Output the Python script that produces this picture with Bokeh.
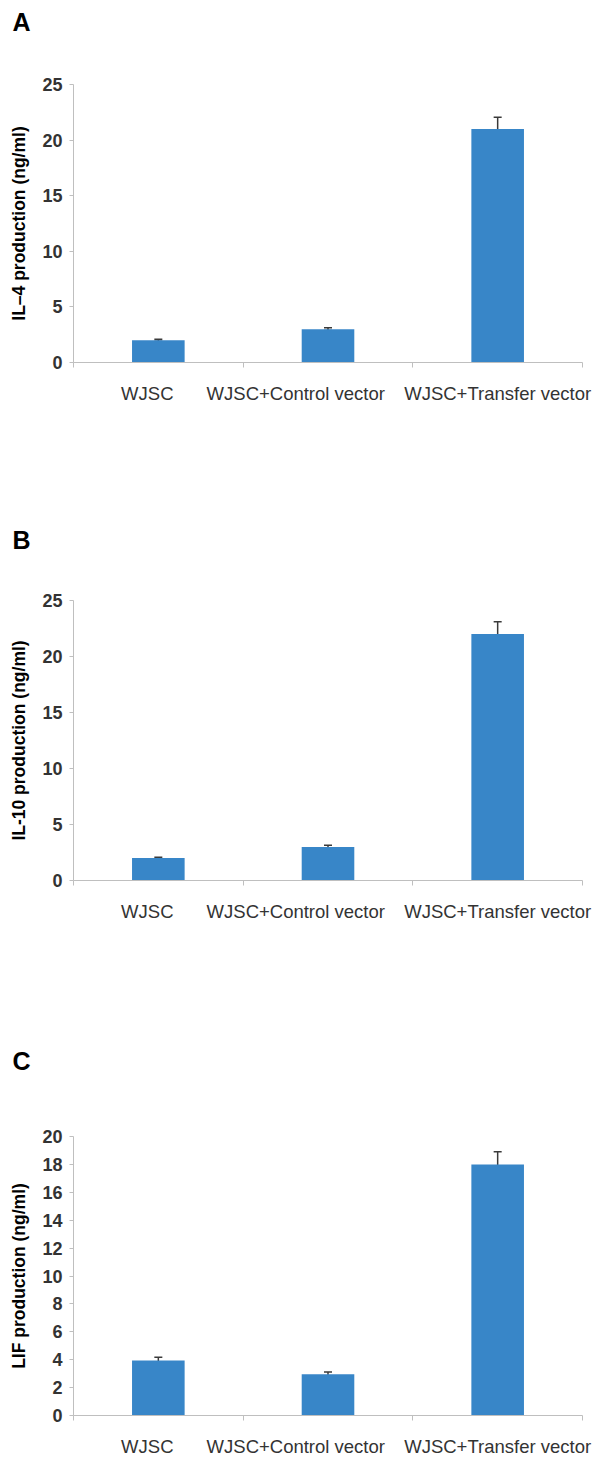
from bokeh.plotting import figure
from bokeh.models import Range1d, FixedTicker, Whisker, ColumnDataSource, TeeHead, Title
from bokeh.layouts import column
from bokeh.embed import file_html
from bokeh.resources import INLINE

categories = ["WJSC", "WJSC+Control vector", "WJSC+Transfer vector"]

il4_values = [2.0, 3.0, 21.0]
il4_errors = [0.08, 0.12, 1.05]

il10_values = [2.0, 3.0, 22.0]
il10_errors = [0.08, 0.15, 1.1]

lif_values = [3.95, 2.95, 18.0]
lif_errors = [0.22, 0.17, 0.9]

panel_letters = ["A", "B", "C"]
y_titles = ["IL\u20134 production (ng/ml)", "IL-10 production (ng/ml)", "LIF production (ng/ml)"]
y_max = [25, 25, 20]
y_step = [5, 5, 2]

FONT = "Liberation Sans"
BAR = "#3886C8"
AXIS = "#BFBFBF"
TXT = "#333333"

# small horizontal shift of the category labels relative to the bar centres (category units)
LABEL_SHIFT = [-0.065, -0.19, 0.0]


def make_panel(letter, ytitle, values, errors, ymax, ystep, height, top, frame_h, right, gap):
    n = len(categories)
    xs = [i + 0.5 for i in range(n)]
    lx = [x + s for x, s in zip(xs, LABEL_SHIFT)]
    p = figure(width=597, height=height, x_range=Range1d(0, n), y_range=Range1d(0, ymax),
               output_backend="svg", toolbar_location=None, title=None,
               min_border_left=73, min_border_right=right,
               min_border_top=top, min_border_bottom=height - top - frame_h)
    p.outline_line_color = None
    p.grid.visible = False
    p.background_fill_color = "white"
    p.border_fill_color = "white"

    # blank spacer next to the frame, then the panel letter above it
    spacer = Title(text=" ", text_font=FONT, text_font_size="1px", text_color="white",
                   standoff=gap)
    p.add_layout(spacer, "above")
    lt = Title(text=letter, text_font=FONT, text_font_size="25px", text_font_style="bold",
               text_color="black", align="left", offset=-61, standoff=0,
               vertical_align="bottom")
    p.add_layout(lt, "above")

    src = ColumnDataSource(dict(
        x=xs, top=values,
        upper=[v + e for v, e in zip(values, errors)],
        lower=[v - e for v, e in zip(values, errors)],
    ))
    p.vbar(x="x", top="top", width=0.31, source=src, fill_color=BAR, line_color=None)
    w = Whisker(base="x", upper="upper", lower="lower", source=src,
                line_color="#3a3a3a", line_width=1.5,
                upper_head=TeeHead(size=8, line_color="#3a3a3a", line_width=1.5),
                lower_head=TeeHead(size=8, line_color="#3a3a3a", line_width=1.5))
    p.add_layout(w)

    # x axis: category labels, tick marks at category boundaries
    xa = p.xaxis[0]
    xa.ticker = FixedTicker(ticks=lx, minor_ticks=list(range(n + 1)))
    xa.major_label_overrides = {x: c for x, c in zip(lx, categories)}
    xa.major_tick_out = 0
    xa.major_tick_in = 0
    xa.minor_tick_out = 5
    xa.minor_tick_in = 0
    xa.minor_tick_line_color = AXIS
    xa.axis_line_color = AXIS
    xa.major_label_standoff = 15
    xa.major_label_text_font = FONT
    xa.major_label_text_font_size = "18.5px"
    xa.major_label_text_color = TXT

    ya = p.yaxis[0]
    ya.ticker = FixedTicker(ticks=list(range(0, ymax + 1, ystep)), minor_ticks=[])
    ya.major_tick_out = 4
    ya.major_tick_in = 0
    ya.minor_tick_out = 0
    ya.minor_tick_in = 0
    ya.major_tick_line_color = AXIS
    ya.axis_line_color = AXIS
    ya.major_label_standoff = 7
    ya.major_label_text_font = FONT
    ya.major_label_text_font_size = "18px"
    ya.major_label_text_font_style = "bold"
    ya.major_label_text_color = TXT
    ya.axis_label = ytitle
    ya.axis_label_text_font = FONT
    ya.axis_label_text_font_size = "17.5px"
    ya.axis_label_text_font_style = "bold"
    ya.axis_label_text_color = "black"
    ya.axis_label_standoff = 10
    return p


pa = make_panel(panel_letters[0], y_titles[0], il4_values, il4_errors, y_max[0], y_step[0],
                height=520, top=84, frame_h=278, right=15, gap=46)
pb = make_panel(panel_letters[1], y_titles[1], il10_values, il10_errors, y_max[1], y_step[1],
                height=516, top=80, frame_h=280, right=9, gap=44)
pc = make_panel(panel_letters[2], y_titles[2], lif_values, lif_errors, y_max[2], y_step[2],
                height=428, top=100, frame_h=279, right=7, gap=59)

layout = column(pa, pb, pc, spacing=0)
open("out.html", "w").write(file_html(layout, INLINE))
